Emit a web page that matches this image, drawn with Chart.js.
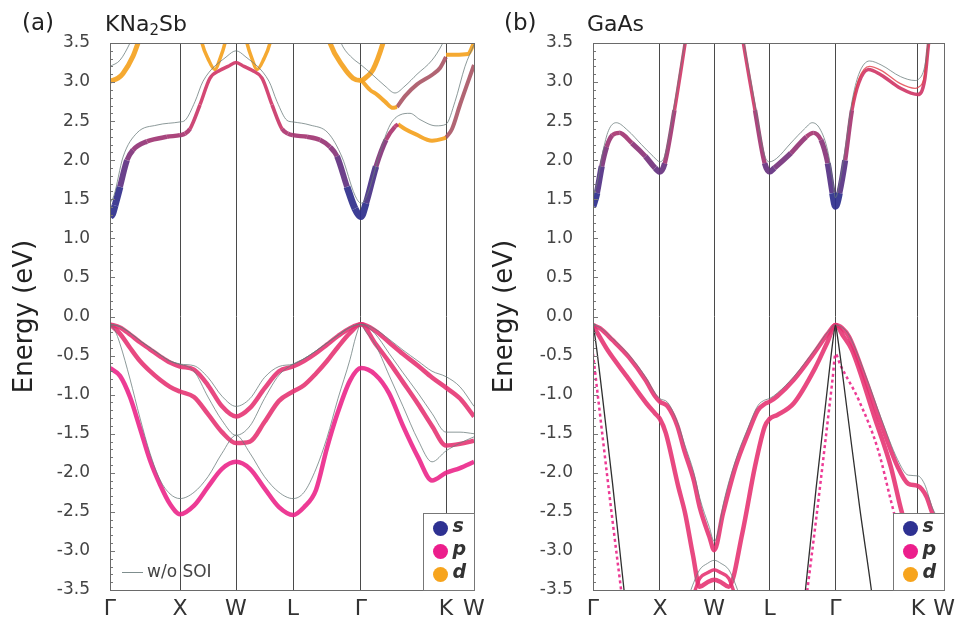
<!DOCTYPE html>
<html>
<head>
<meta charset="utf-8">
<script src="https://cdn.jsdelivr.net/npm/chart.js@4.4.0/dist/chart.umd.min.js"></script>
<style>
  body { margin: 0; background: #fff; width: 961px; height: 624px; overflow: hidden; position: relative; font-family: "DejaVu Sans", sans-serif; }
  canvas { position: absolute; top: 0; }
  #cA { left: 0; }
  #cB { left: 480px; }
  .lbl { position: absolute; color: #222; white-space: nowrap; }
  .lbl sub { font-size: 15px; vertical-align: -4px; }
</style>
</head>
<body>
<canvas id="cA" width="500" height="624"></canvas>
<canvas id="cB" width="481" height="624"></canvas>
<div class="lbl" style="left:22px; top:9px; font-size:23px">(a)</div>
<div class="lbl" style="left:105px; top:11px; font-size:22px">KNa<sub>2</sub>Sb</div>
<div class="lbl" style="left:504px; top:9px; font-size:23px">(b)</div>
<div class="lbl" style="left:587px; top:11px; font-size:22px">GaAs</div>
<script>
// k-path: high symmetry points and their path coordinates
const kLabels = ["Γ", "X", "W", "L", "Γ", "K", "W"];
const kTicksA = [0, 0.70, 1.26, 1.83, 2.51, 3.36, 3.64];
const kTicksB = [0, 0.69, 1.25, 1.82, 2.50, 3.35, 3.62];
const energyTicks = [-3.5, -3.0, -2.5, -2.0, -1.5, -1.0, -0.5, 0.0, 0.5, 1.0, 1.5, 2.0, 2.5, 3.0, 3.5];
const orbitals = ["s", "p", "d"];

// ---- (a) KNa2Sb, with SOI : [k, E(eV)]
const a_hh = [[0,-0.10],[0.10,-0.14],[0.20,-0.23],[0.30,-0.33],[0.40,-0.42],[0.50,-0.51],[0.60,-0.59],[0.70,-0.64],
  [0.84,-0.68],[0.98,-0.88],[1.12,-1.15],[1.26,-1.28],[1.40,-1.17],[1.545,-0.92],[1.69,-0.70],[1.83,-0.64],
  [1.94,-0.57],[2.06,-0.47],[2.17,-0.36],[2.28,-0.25],[2.40,-0.15],[2.51,-0.10],
  [2.65,-0.18],[2.79,-0.33],[2.93,-0.48],[3.08,-0.63],[3.22,-0.78],[3.36,-0.91],[3.50,-1.05],[3.64,-1.28]];
const a_lh = [[0,-0.10],[0.10,-0.22],[0.20,-0.40],[0.30,-0.57],[0.40,-0.70],[0.50,-0.81],[0.60,-0.90],[0.70,-0.96],
  [0.84,-1.03],[0.98,-1.25],[1.12,-1.48],[1.26,-1.62],[1.40,-1.60],[1.545,-1.35],[1.69,-1.08],[1.83,-0.96],
  [1.94,-0.88],[2.06,-0.73],[2.17,-0.57],[2.28,-0.39],[2.40,-0.21],[2.51,-0.10],
  [2.65,-0.34],[2.79,-0.58],[2.93,-0.84],[3.08,-1.12],[3.22,-1.40],[3.36,-1.65],[3.50,-1.63],[3.64,-1.59]];
const a_so = [[0,-0.66],[0.10,-0.76],[0.20,-1.03],[0.30,-1.43],[0.40,-1.84],[0.50,-2.15],[0.60,-2.40],[0.70,-2.53],
  [0.84,-2.42],[0.98,-2.18],[1.12,-1.95],[1.26,-1.86],[1.40,-1.95],[1.545,-2.20],[1.69,-2.44],[1.83,-2.54],
  [1.94,-2.44],[2.06,-2.22],[2.17,-1.68],[2.28,-1.22],[2.40,-0.82],[2.51,-0.66],
  [2.65,-0.74],[2.79,-0.98],[2.93,-1.40],[3.08,-1.80],[3.22,-2.10],[3.36,-2.00],[3.50,-1.94],[3.64,-1.86]];
const a_cb = [[0,1.28],[0.025,1.31],[0.05,1.42],[0.10,1.66],[0.17,2.00],[0.23,2.13],[0.37,2.24],[0.57,2.30],[0.70,2.32],
  [0.75,2.34],[0.80,2.40],[0.90,2.71],[1.00,3.05],[1.10,3.15],[1.18,3.20],[1.26,3.25],
  [1.34,3.20],[1.42,3.15],[1.52,3.05],[1.62,2.71],[1.72,2.40],[1.78,2.34],[1.83,2.32],
  [1.97,2.30],[2.10,2.26],[2.20,2.17],[2.27,2.05],[2.37,1.66],[2.45,1.38],[2.51,1.28],
  [2.56,1.45],[2.66,1.92],[2.76,2.26],[2.85,2.43],[2.88,2.46]];
const a_cbD = [[2.88,2.46],[2.95,2.40],[3.06,2.33],[3.22,2.25],[3.34,2.28],[3.36,2.29]];
const a_cbKW = [[3.36,2.29],[3.42,2.40],[3.50,2.71],[3.64,3.22]];
const a_cb2D = [[2.51,3.03],[2.60,2.90],[2.67,2.84],[2.75,2.75],[2.83,2.67],[2.87,2.68]];
const a_cb2 = [[2.87,2.68],[2.95,2.82],[3.07,2.97],[3.23,3.10],[3.30,3.18],[3.36,3.32]];
const a_cb2KW = [[3.36,3.35],[3.45,3.35],[3.58,3.36],[3.64,3.50]];
const a_dG1 = [[0,3.01],[0.08,3.05],[0.13,3.11],[0.23,3.33],[0.28,3.50],[0.32,3.65]];
const a_dG2 = [[2.17,3.65],[2.20,3.50],[2.33,3.20],[2.43,3.05],[2.51,3.02],[2.56,3.06],[2.63,3.16],[2.73,3.50],[2.76,3.65]];
const a_dW1 = [[0.89,3.70],[0.92,3.50],[0.98,3.30],[1.05,3.16],[1.10,3.30],[1.15,3.50],[1.18,3.70]];
const a_dW2 = [[1.34,3.70],[1.37,3.50],[1.42,3.30],[1.47,3.16],[1.54,3.30],[1.60,3.50],[1.63,3.70]];
// ---- (a) w/o SOI
const a_g1 = [[0,-0.10],[0.10,-0.13],[0.20,-0.21],[0.30,-0.31],[0.40,-0.40],[0.50,-0.49],[0.60,-0.57],[0.70,-0.61],
  [0.84,-0.63],[0.98,-0.78],[1.12,-1.02],[1.26,-1.15],[1.40,-1.05],[1.545,-0.78],[1.69,-0.64],[1.83,-0.61],
  [1.94,-0.54],[2.06,-0.44],[2.17,-0.34],[2.28,-0.24],[2.40,-0.14],[2.51,-0.10],
  [2.65,-0.16],[2.79,-0.29],[2.93,-0.43],[3.08,-0.57],[3.22,-0.70],[3.36,-0.77],[3.50,-0.90],[3.64,-1.15]];
const a_g2 = [[0,-0.10],[0.10,-0.13],[0.20,-0.21],[0.30,-0.31],[0.40,-0.40],[0.50,-0.49],[0.60,-0.57],[0.70,-0.61],
  [0.84,-0.70],[0.98,-1.03],[1.12,-1.33],[1.26,-1.52],[1.40,-1.40],[1.545,-1.05],[1.69,-0.75],[1.83,-0.61],
  [1.94,-0.54],[2.06,-0.44],[2.17,-0.34],[2.28,-0.24],[2.40,-0.14],[2.51,-0.10],
  [2.65,-0.22],[2.79,-0.47],[2.93,-0.72],[3.08,-0.98],[3.22,-1.24],[3.36,-1.48],[3.50,-1.48],[3.64,-1.50]];
const a_g3 = [[0,-0.10],[0.05,-0.18],[0.10,-0.35],[0.20,-0.80],[0.30,-1.30],[0.40,-1.75],[0.50,-2.09],[0.60,-2.27],[0.70,-2.33],
  [0.84,-2.25],[0.98,-2.05],[1.12,-1.75],[1.26,-1.52],[1.40,-1.75],[1.545,-2.05],[1.69,-2.25],[1.83,-2.33],
  [1.94,-2.25],[2.06,-1.95],[2.17,-1.55],[2.28,-1.05],[2.40,-0.55],[2.46,-0.25],[2.51,-0.10],
  [2.56,-0.20],[2.65,-0.35],[2.79,-0.75],[2.93,-1.15],[3.08,-1.58],[3.22,-1.86],[3.36,-1.72],[3.50,-1.62],[3.64,-1.54]];
const a_gc1 = [[0,1.45],[0.04,1.55],[0.13,2.04],[0.27,2.35],[0.47,2.45],[0.70,2.49],[0.75,2.51],[0.85,2.75],[0.93,3.01],
  [1.17,3.33],[1.26,3.40],[1.35,3.33],[1.59,3.01],[1.67,2.75],[1.77,2.51],[1.83,2.49],[2.00,2.45],[2.18,2.35],
  [2.32,2.04],[2.45,1.55],[2.51,1.45],[2.57,1.55],[2.70,2.10],[2.80,2.45],[2.90,2.58],[3.00,2.60],[3.10,2.52],
  [3.26,2.44],[3.36,2.46],[3.45,2.75],[3.55,3.20],[3.64,3.48]];
const a_gc2 = [[2.28,3.60],[2.33,3.45],[2.43,3.30],[2.51,3.22],[2.62,3.10],[2.75,2.95],[2.85,2.86],[2.95,2.95],
  [3.07,3.10],[3.22,3.28],[3.32,3.48],[3.36,3.60]];
const a_gc3 = [[0,3.20],[0.10,3.28],[0.20,3.50],[0.25,3.65]];

// ---- (b) GaAs, with SOI
const b_hh = [[0,-0.11],[0.07,-0.15],[0.20,-0.30],[0.37,-0.52],[0.54,-0.81],[0.64,-1.02],[0.69,-1.09],
  [0.77,-1.15],[0.87,-1.40],[0.94,-1.71],[1.04,-2.10],[1.10,-2.44],[1.20,-2.82],[1.25,-2.99],
  [1.34,-2.52],[1.47,-1.92],[1.60,-1.49],[1.70,-1.20],[1.77,-1.12],[1.82,-1.09],
  [1.90,-1.02],[2.07,-0.81],[2.29,-0.45],[2.42,-0.22],[2.50,-0.11],
  [2.57,-0.15],[2.64,-0.26],[2.80,-0.77],[2.97,-1.37],[3.14,-1.92],[3.25,-2.14],[3.35,-2.17],[3.44,-2.31],[3.50,-2.52],[3.62,-2.75]];
const b_lh = [[0,-0.11],[0.05,-0.22],[0.15,-0.43],[0.35,-0.77],[0.55,-1.11],[0.64,-1.24],[0.69,-1.31],
  [0.75,-1.49],[0.88,-2.18],[0.95,-2.52],[1.03,-3.05],[1.10,-3.46],[1.18,-3.40],[1.25,-3.37],[1.32,-3.40],[1.40,-3.46],
  [1.54,-2.77],[1.67,-1.92],[1.77,-1.41],[1.82,-1.31],
  [1.90,-1.26],[2.07,-1.11],[2.29,-0.66],[2.42,-0.32],[2.50,-0.11],
  [2.58,-0.25],[2.67,-0.43],[2.90,-1.28],[3.07,-1.92],[3.17,-2.44],[3.28,-2.95],[3.40,-3.60]];
const b_pW = [[0.98,-3.75],[1.04,-3.55],[1.10,-3.35],[1.18,-3.28],[1.25,-3.24],[1.32,-3.28],[1.40,-3.35],[1.46,-3.55],[1.52,-3.75]];
const b_so1 = [[0,-0.48],[0.03,-0.80],[0.10,-1.55],[0.20,-2.60],[0.30,-3.60],[0.36,-4.20]];
const b_so2 = [[2.14,-4.20],[2.20,-3.60],[2.30,-2.60],[2.40,-1.55],[2.47,-0.80],[2.50,-0.48],
  [2.55,-0.62],[2.74,-1.07],[2.94,-1.71],[3.07,-2.35],[3.14,-2.69],[3.25,-3.20],[3.35,-3.70]];
const b_cb = [[0,1.41],[0.04,1.58],[0.09,1.92],[0.14,2.17],[0.20,2.32],[0.27,2.35],[0.40,2.22],[0.54,2.05],[0.64,1.90],[0.69,1.85],
  [0.74,1.96],[0.84,2.64],[0.95,3.50],[1.00,3.90],[1.50,3.90],[1.55,3.50],[1.67,2.64],[1.77,1.96],[1.82,1.85],
  [1.87,1.90],[2.04,2.09],[2.20,2.30],[2.27,2.35],[2.35,2.26],[2.42,1.96],[2.47,1.58],[2.50,1.41],
  [2.54,1.58],[2.60,2.00],[2.67,2.64],[2.74,2.99],[2.84,3.16],[2.97,3.09],[3.17,2.92],[3.35,2.84],[3.42,3.03],[3.46,3.50],[3.50,3.90]];
const b_cbSO = [[2.67,2.70],[2.74,3.04],[2.85,3.20],[2.97,3.15],[3.17,2.98],[3.32,2.92],[3.35,2.93],[3.42,3.10],[3.46,3.55]];
// ---- (b) w/o SOI
const b_g1 = [[0,-0.11],[0.07,-0.14],[0.20,-0.28],[0.37,-0.49],[0.54,-0.77],[0.64,-0.98],[0.69,-1.05],
  [0.77,-1.10],[0.87,-1.35],[0.94,-1.62],[1.04,-2.00],[1.10,-2.32],[1.20,-2.70],[1.25,-2.88],
  [1.30,-2.70],[1.34,-2.42],[1.47,-1.84],[1.60,-1.42],[1.70,-1.14],[1.77,-1.07],[1.82,-1.05],
  [1.90,-0.98],[2.07,-0.77],[2.29,-0.42],[2.42,-0.20],[2.50,-0.11],
  [2.57,-0.14],[2.64,-0.24],[2.80,-0.72],[2.97,-1.30],[3.14,-1.83],[3.25,-2.03],[3.35,-2.04],[3.42,-2.15],[3.50,-2.45],[3.62,-2.70]];
const b_gW = [[0.98,-3.60],[1.04,-3.40],[1.10,-3.24],[1.18,-3.16],[1.25,-3.12],[1.32,-3.16],[1.40,-3.24],[1.46,-3.40],[1.52,-3.60]];
const b_k1 = [[0,-0.11],[0.02,-0.25],[0.10,-1.05],[0.20,-2.12],[0.32,-3.50],[0.40,-4.40]];
const b_k2 = [[2.10,-4.40],[2.19,-3.50],[2.30,-2.20],[2.40,-1.10],[2.48,-0.25],[2.50,-0.11],
  [2.52,-0.25],[2.62,-1.20],[2.75,-2.45],[2.87,-3.50],[2.95,-4.30]];
const b_gc = [[0,1.52],[0.05,1.75],[0.10,2.10],[0.16,2.38],[0.24,2.48],[0.36,2.38],[0.50,2.20],[0.62,2.05],[0.69,1.98],
  [0.74,2.06],[0.84,2.72],[0.95,3.55],[1.00,3.90],[1.50,3.90],[1.55,3.55],[1.67,2.72],[1.77,2.06],[1.82,1.98],
  [1.89,2.02],[2.04,2.22],[2.18,2.40],[2.26,2.48],[2.34,2.40],[2.42,2.12],[2.47,1.75],[2.50,1.52],
  [2.54,1.70],[2.60,2.15],[2.67,2.75],[2.74,3.10],[2.85,3.27],[2.97,3.22],[3.17,3.07],[3.32,3.02],[3.35,3.03],[3.42,3.20],[3.46,3.55],[3.50,3.90]];

// colours
const orbitalColors = ["#2e3192", "#ec1e8c", "#f7a41d"];
const GRAY = "rgba(105,122,122,0.85)";
const DARK = "#2f2f2f";
const P_COL = "rgba(229,48,112,0.88)";
const SO_COL = "rgba(234,32,134,0.88)";
const D_COL = "rgba(244,162,32,0.92)";
const BROWN = "rgba(168,84,100,0.9)";

function line(pts, color, width, extra) {
  return Object.assign({
    data: pts.map(([x, y]) => ({ x, y })),
    borderColor: color, borderWidth: width,
    pointRadius: 0, pointHitRadius: 0, fill: false,
    cubicInterpolationMode: "monotone", tension: 0.4, clip: 0
  }, extra || {});
}

// s -> p colour along the lowest conduction band, taken from the energy
function spT(c) {
  const e = (c.p0.parsed.y + c.p1.parsed.y) / 2;
  return Math.min(1, Math.max(0, (e - 1.5) / 1.1));
}
function spColor(c) {
  const t = spT(c);
  const r = Math.round(44 + (208 - 44) * t), g = Math.round(46 + (56 - 46) * t), b = Math.round(140 + (104 - 140) * t);
  return `rgba(${r},${g},${b},0.92)`;
}
const spSeg = { segment: { borderColor: spColor, borderWidth: c => 7 - 3.5 * spT(c) } };

function decorPlugin(showSoi) {
  return {
    id: "decor",
    afterDatasetsDraw(chart) {
      const ctx = chart.ctx;
      const { left, right, top, bottom } = chart.chartArea;
      const y = chart.scales.y;
      ctx.save();
      // inward ticks on the energy axis
      ctx.strokeStyle = "#777";
      ctx.lineWidth = 1;
      for (let i = -35; i <= 35; i++) {
        const py = Math.round(y.getPixelForValue(i / 10)) + 0.5;
        const len = i % 5 === 0 ? 5 : 3;
        ctx.beginPath();
        ctx.moveTo(left, py);
        ctx.lineTo(left + len, py);
        ctx.stroke();
      }
      // frame
      ctx.strokeStyle = "#6a6a6a";
      ctx.strokeRect(Math.round(left) + 0.5, Math.round(top) + 0.5, Math.round(right - left), Math.round(bottom - top));
      // orbital legend
      const bw = 51, bh = 77;
      const bx = Math.round(right) - bw + 0.5, by = Math.round(bottom) - bh + 0.5;
      ctx.fillStyle = "#fff";
      ctx.fillRect(bx, by, bw, bh);
      ctx.strokeStyle = "#777";
      ctx.strokeRect(bx, by, bw, bh);
      orbitals.forEach((o, i) => {
        const cy = by + 15 + i * 23;
        ctx.fillStyle = orbitalColors[i];
        ctx.beginPath();
        ctx.arc(bx + 17, cy, 7.5, 0, Math.PI * 2);
        ctx.fill();
        ctx.fillStyle = "#333";
        ctx.font = "italic bold 19px 'DejaVu Sans'";
        ctx.textBaseline = "middle";
        ctx.textAlign = "left";
        ctx.fillText(o, bx + 29, cy - 1);
      });
      if (showSoi) {
        const ly = Math.round(bottom) - 17.5;
        ctx.strokeStyle = GRAY;
        ctx.beginPath();
        ctx.moveTo(left + 12, ly);
        ctx.lineTo(left + 33, ly);
        ctx.stroke();
        ctx.fillStyle = "#444";
        ctx.font = "17px 'DejaVu Sans'";
        ctx.textBaseline = "middle";
        ctx.fillText("w/o SOI", left + 37, ly);
      }
      ctx.restore();
    }
  };
}

function makeChart(id, kTicks, yWidth, rightPad, datasets, showSoi) {
  return new Chart(document.getElementById(id), {
    type: "line",
    data: { datasets },
    options: {
      responsive: false, animation: false, devicePixelRatio: 1, events: [],
      layout: { padding: { top: 43, right: rightPad, bottom: 0, left: 0 } },
      plugins: { legend: { display: false }, tooltip: { enabled: false } },
      scales: {
        x: {
          type: "linear", min: 0, max: kTicks[kTicks.length - 1],
          afterBuildTicks: s => { s.ticks = kTicks.map(v => ({ value: v })); },
          afterFit: s => { s.height = 34; },
          ticks: { callback: (v, i) => kLabels[i], autoSkip: false, maxRotation: 0, padding: 6, color: "#333", font: { family: "DejaVu Sans", size: 22 } },
          grid: { color: "#4a4a4a", lineWidth: 1, drawTicks: false },
          border: { display: false }
        },
        y: {
          type: "linear", min: -3.5, max: 3.5,
          afterBuildTicks: s => { s.ticks = energyTicks.map(v => ({ value: v })); },
          afterFit: s => { s.width = yWidth; },
          ticks: { callback: v => v.toFixed(1), padding: 20, color: "#444", font: { family: "DejaVu Sans", size: 17 } },
          grid: { display: false, drawTicks: false },
          border: { display: false },
          title: { display: true, text: "Energy (eV)", color: "#222", font: { family: "DejaVu Sans", size: 26 }, padding: { top: 10, bottom: 0 } }
        }
      }
    },
    plugins: [decorPlugin(showSoi)]
  });
}

makeChart("cA", kTicksA, 110, 26, [
  line(a_g1, GRAY, 0.9), line(a_g2, GRAY, 0.9), line(a_g3, GRAY, 0.9),
  line(a_gc1, GRAY, 0.9), line(a_gc2, GRAY, 0.9), line(a_gc3, GRAY, 0.9),
  line(a_hh, P_COL, 4.5), line(a_lh, P_COL, 4.5), line(a_so, SO_COL, 4.5),
  line(a_cb, "#c03870", 5, spSeg),
  line(a_cbD, D_COL, 4), line(a_cbKW, BROWN, 4),
  line(a_cb2D, D_COL, 4), line(a_cb2, BROWN, 4), line(a_cb2KW, D_COL, 4),
  line(a_dG1, D_COL, 5), line(a_dG2, D_COL, 5), line(a_dW1, D_COL, 3.5), line(a_dW2, D_COL, 3.5)
], true);

makeChart("cB", kTicksB, 113, 6, [
  line(b_k1, DARK, 1.3), line(b_k2, DARK, 1.3),
  line(b_g1, GRAY, 0.9), line(b_gW, GRAY, 0.9), line(b_gc, GRAY, 0.9),
  line(b_hh, P_COL, 4.5), line(b_lh, P_COL, 4.5), line(b_pW, P_COL, 3.5),
  line(b_so1, SO_COL, 2.5, { borderDash: [3, 3] }), line(b_so2, SO_COL, 2.5, { borderDash: [3, 3] }),
  line(b_cbSO, "rgba(225,60,70,0.8)", 1.3),
  line(b_cb, "#c03870", 5, spSeg)
], false);
</script>
</body>
</html>
